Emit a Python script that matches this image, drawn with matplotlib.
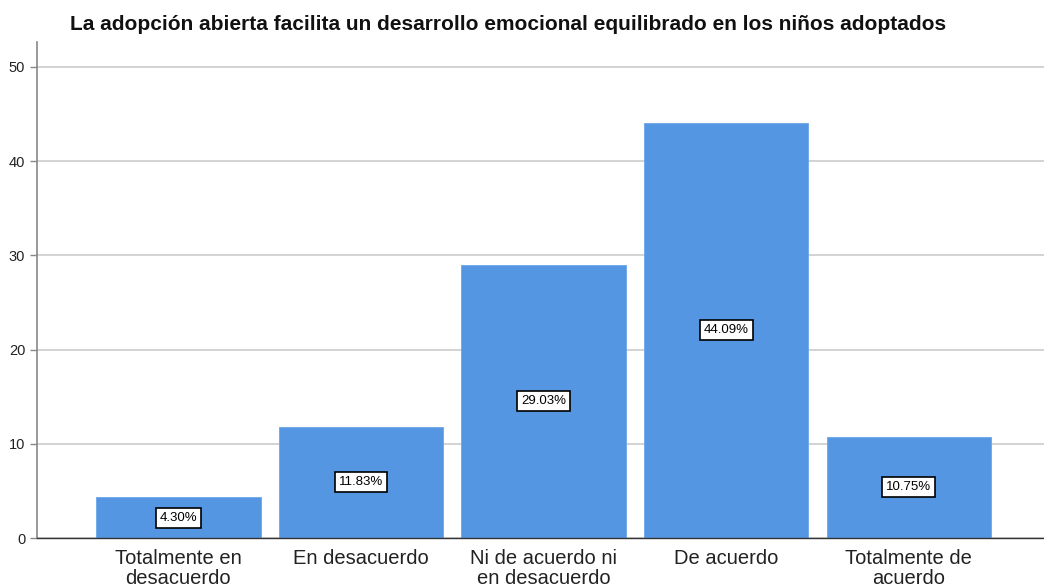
import matplotlib
matplotlib.use("Agg")
import matplotlib.pyplot as plt

plt.rcParams['font.family'] = ['Liberation Sans', 'DejaVu Sans']

# Datos
categorias = ["Totalmente en\ndesacuerdo", "En desacuerdo", "Ni de acuerdo ni\nen desacuerdo",
              "De acuerdo", "Totalmente de\nacuerdo"]
porcentajes = [4.30, 11.83, 29.03, 44.09, 10.75]
y_ticks = [0, 10, 20, 30, 40, 50]
titulo = "La adopción abierta facilita un desarrollo emocional equilibrado en los niños adoptados"

fig = plt.figure(figsize=(10.44, 5.88), dpi=100)
ax = fig.add_axes([37 / 1044, 50 / 588, 1 - 37 / 1044, (538 - 42) / 588])

x = list(range(len(categorias)))
ax.bar(x, porcentajes, width=0.9, color="#5596E3", edgecolor="#6aa5e8", linewidth=0.6, zorder=2)

for xi, v in zip(x, porcentajes):
    ax.text(xi, v / 2, f"{v:.2f}%", ha="center", va="center", fontsize=9.5, zorder=3,
            bbox=dict(boxstyle="square,pad=0.3", facecolor="white", edgecolor="black", linewidth=1.2))

ax.set_xlim(-0.774, 4.74)
ax.set_ylim(0, 52.65)
ax.set_yticks(y_ticks)
ax.set_yticklabels([str(t) for t in y_ticks], fontsize=10.5, color="#222222")
ax.set_xticks(x)
ax.set_xticklabels(categorias, fontsize=14.5, color="#222222", linespacing=1.05)
ax.tick_params(axis="x", length=0, pad=8)
ax.tick_params(axis="y", length=5, color="#888888", width=1)

ax.yaxis.grid(True, color="#cccccc", linewidth=1.2, zorder=0)
ax.set_axisbelow(True)
for s in ["top", "right"]:
    ax.spines[s].set_visible(False)
ax.spines["left"].set_color("#888888")
ax.spines["left"].set_linewidth(1.2)
ax.spines["bottom"].set_color("#333333")
ax.spines["bottom"].set_linewidth(1)

fig.text(508 / 1044, 1 - 25 / 588, titulo, ha="center", va="center",
         fontsize=15, fontweight="bold", color="#111111")

fig.savefig("out.png", dpi=100)
